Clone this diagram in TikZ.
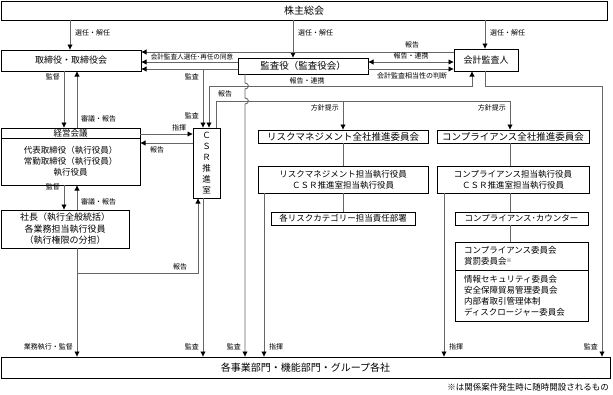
\documentclass[tikz,border=0pt]{standalone}
\usepackage{fontspec}
\setmainfont{Noto Sans CJK JP}
\usetikzlibrary{arrows.meta,positioning}

\begin{document}
\begin{tikzpicture}[x=1pt,y=-1pt,
  box/.style={draw,line width=0.8pt,inner sep=0pt,outer sep=0pt,align=center,font=\fontsize{8.5}{11}\selectfont},
  big/.style={font=\fontsize{10}{12}\selectfont},
  lnk/.style={draw=black!60,line width=0.9pt},
  arr/.style={lnk,-{Latex[length=5.5pt,width=5.5pt,color=black]}},
  dbl/.style={lnk,{Latex[length=5.5pt,width=5.5pt,color=black]}-{Latex[length=5.5pt,width=5.5pt,color=black]}},
  lab/.style={font=\fontsize{7}{8}\selectfont,inner sep=1pt}]
  \useasboundingbox (0,0) rectangle (613,394);

  \node[box,big,minimum width=606,minimum height=19] (soukai) at (304,10.5) {株主総会};
  \node[box,font=\fontsize{9}{11}\selectfont,minimum width=140,minimum height=21] (torishimari) at (71,60.5) {取締役・取締役会};
  \node[box,font=\fontsize{9.5}{11}\selectfont,minimum width=130,minimum height=16] (kansayaku) at (303,66) {監査役（監査役会）};
  \node[box,font=\fontsize{9}{11}\selectfont,minimum width=64,minimum height=22] (kaikei) at (486,60) {会計監査人};
  \node[box,minimum width=139,minimum height=10] (keiei) at (70.5,133) {経営会議};
  \node[box,minimum width=139,minimum height=47,below=0pt of keiei] (keieibody) {代表取締役（執行役員）\\常勤取締役（執行役員）\\執行役員};
  \node[box,font=\fontsize{9}{11.5}\selectfont,minimum width=128,minimum height=38] (shacho) at (65,229) {社長（執行全般統括）\\各業務担当執行役員\\（執行権限の分担）};
  \node[box,minimum width=27,minimum height=70] (csr) at (206.5,163) {Ｃ\\Ｓ\\Ｒ\\推\\進\\室};
  \node[box,font=\fontsize{9.5}{11}\selectfont,minimum width=170,minimum height=13] (riskkai) at (343,136.5) {リスクマネジメント全社推進委員会};
  \node[box,minimum width=170,minimum height=27] (risktantou) at (343,179.5) {リスクマネジメント担当執行役員\\ＣＳＲ推進室担当執行役員};
  \node[box,minimum width=144,minimum height=13] (riskbusho) at (343,218.5) {各リスクカテゴリー担当責任部署};
  \node[box,font=\fontsize{9.5}{11}\selectfont,minimum width=152,minimum height=13] (compkai) at (513,136.5) {コンプライアンス全社推進委員会};
  \node[box,minimum width=152,minimum height=27] (comptantou) at (513,179.5) {コンプライアンス担当執行役員\\ＣＳＲ推進室担当執行役員};
  \node[box,minimum width=133,minimum height=13] (counter) at (521.5,218.5) {コンプライアンス･カウンター};
  \node[box,align=left,text width=115,minimum width=133,minimum height=28] (iinkai) at (521.5,256) {コンプライアンス委員会\\賞罰委員会{\fontsize{5}{5}\selectfont\raisebox{2.5pt}{※}}};
  \node[box,align=left,text width=115,minimum width=133,minimum height=51,below=0pt of iinkai] (iinkaisub) {情報セキュリティ委員会\\安全保障貿易管理委員会\\内部者取引管理体制\\ディスクロージャー委員会};
  \node[box,big,minimum width=609,minimum height=21] (jigyou) at (305.5,367.5) {各事業部門・機能部門・グループ各社};
  \node[lab,font=\fontsize{8.5}{10}\selectfont,anchor=east] (chuuki) at (610,387) {※は関係案件発生時に随時開設されるもの};

  \draw[arr] (soukai.south -| 70,0) -- (torishimari.north -| 70,0);
  \draw[arr] (soukai.south -| 293,0) -- (kansayaku.north -| 293,0);
  \draw[arr] (soukai.south -| 485,0) -- (kaikei.north -| 485,0);
  \node[lab,anchor=west] (sennin1) at (74,33) {選任・解任};
  \node[lab,anchor=west] (sennin2) at (297,33) {選任・解任};
  \node[lab,anchor=west] (sennin3) at (489,33) {選任・解任};

  \draw[arr] (kaikei.west |- 0,52) -- (torishimari.east |- 0,52);
  \draw[arr] (kansayaku.west |- 0,62) -- (torishimari.east |- 0,62);
  \draw[arr] (kansayaku.west |- 0,69) -- (torishimari.east |- 0,69);
  \draw[arr] (203,69) -- (csr.north -| 203,0);
  \draw[arr] (csr.south -| 203,0) -- (jigyou.north -| 203,0);
  \draw[dbl] (kansayaku.east |- 0,62) -- (kaikei.west |- 0,62);
  \draw[arr] (kansayaku.east |- 0,69) -- (kaikei.west |- 0,69);
  \node[lab] (houkoku1) at (412,45) {報告};
  \node[lab] (renkei1) at (411,55.5) {報告・連携};
  \node[lab] (soutou) at (412,76) {会計監査相当性の判断};
  \node[lab,font=\fontsize{6.6}{7}\selectfont] (doui) at (192,57) {会計監査人選任･再任の同意};
  \node[lab,anchor=east] (kansa1) at (200,77) {監査};
  \node[lab,anchor=east] (kansa2) at (200,116) {監査};

  \draw[dbl] (csr.north -| 209,0) -- (209,86) -- (472,86) -- (kaikei.south -| 472,0);
  \node[lab] (renkei2) at (307,80.5) {報告・連携};
  \node[lab] (houkoku2) at (225,93.5) {報告};
  \draw[arr] (csr.north -| 216,0) |- (510,101) -- (compkai.north -| 510,0);
  \draw[arr] (343,101) -- (riskkai.north);
  \node[lab,anchor=east] (houshin1) at (340,107.5) {方針提示};
  \node[lab,anchor=east] (houshin2) at (507,107.5) {方針提示};
  \draw[arr] (kansayaku.south -| 245,0) -- (245,83) .. controls (249.5,83) and (249.5,89) .. (245,89)
    -- (245,98) .. controls (249.5,98) and (249.5,104) .. (245,104) -- (jigyou.north -| 245,0);
  \draw[arr] (kaikei.south -| 485,0) |- (602,86) -- (jigyou.north -| 602,0);

  \draw[arr] (torishimari.south -| 64,0) -- (keiei.north -| 64,0);
  \draw[arr] (keiei.north -| 77,0) -- (torishimari.south -| 77,0);
  \draw[arr] (keieibody.south -| 64,0) -- (shacho.north -| 64,0);
  \draw[arr] (shacho.north -| 77,0) -- (keieibody.south -| 77,0);
  \node[lab,anchor=east] (kantoku1) at (61,77) {監督};
  \node[lab,anchor=west] (shingi1) at (80,119) {審議・報告};
  \node[lab,anchor=east] (kantoku2) at (61,187) {監督};
  \node[lab,anchor=west] (shingi2) at (80,202) {審議・報告};
  \draw[arr] (keiei.east |- 0,134) -- (csr.west |- 0,134);
  \draw[arr] (csr.west |- 0,143) -- (keieibody.east |- 0,143);
  \node[lab] (shiki1) at (179,128) {指揮};
  \node[lab] (houkoku3) at (157,150) {報告};
  \draw[arr] (shacho.south -| 77,0) -- (jigyou.north -| 77,0);
  \draw[arr] (77,273) -| (csr.south -| 198,0);
  \node[lab] (houkoku4) at (180,267) {報告};

  \draw[lnk] (riskkai) -- (risktantou);
  \draw[lnk] (risktantou) -- (riskbusho);
  \draw[arr] (risktantou.south -| 264,0) -- (jigyou.north -| 264,0);
  \draw[lnk] (compkai.south -| 510,0) -- (comptantou.north -| 510,0);
  \draw[lnk] (comptantou.south -| 510,0) -- (counter.north -| 510,0);
  \draw[lnk] (counter.south -| 510,0) -- (iinkai.north -| 510,0);
  \draw[arr] (comptantou.south -| 444,0) -- (jigyou.north -| 444,0);

  \node[lab,anchor=east] (gyoumu) at (74,347) {業務執行・監督};
  \node[lab,anchor=east] (kansa3) at (200,347) {監査};
  \node[lab,anchor=east] (kansa4) at (242,347) {監査};
  \node[lab,anchor=west] (shiki2) at (268,347) {指揮};
  \node[lab,anchor=west] (shiki3) at (448,347) {指揮};
  \node[lab,anchor=east] (kansa5) at (599,347) {監査};
\end{tikzpicture}
\end{document}
